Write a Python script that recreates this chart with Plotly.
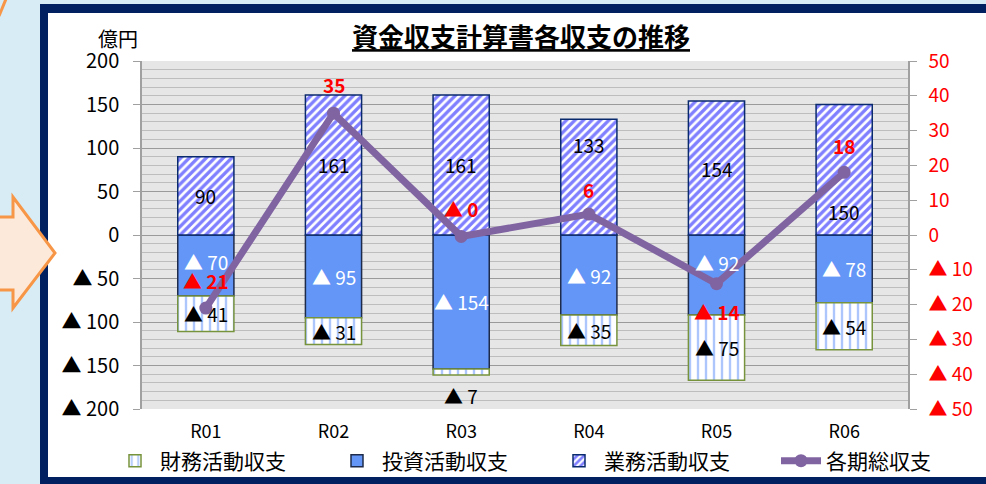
import plotly.graph_objects as go

# ---- data ----
categories = ["R01", "R02", "R03", "R04", "R05", "R06"]
gyomu = [90, 161, 161, 133, 154, 150]        # 業務活動収支
toshi = [-70, -95, -154, -92, -92, -78]      # 投資活動収支
zaimu = [-41, -31, -7, -35, -75, -54]        # 財務活動収支
total = [-21, 35, -0.4, 6, -14, 18]          # 各期総収支

left_ticks = [200, 150, 100, 50, 0, -50, -100, -150, -200]
right_ticks = [50, 40, 30, 20, 10, 0, -10, -20, -30, -40, -50]

# label vertical nudges (pixels)
gyomu_shift = [0, 0, 0, 33, 0, -42]
toshi_shift = [4, 0, 0, 0, 13, 0]
zaimu_shift = [0, 0, -23, 0, 0, 0]
total_shift = [28, 29, 28, 25, -28, 27]


def fmt(v):
    return "▲ %d" % round(abs(v)) if v < 0 else "%d" % round(v)


W, H = 986, 484
ML, MR, MT, MB = 142, 78, 61, 75
PW, PH = W - ML - MR, H - MT - MB


def px(x):
    return (x - ML) / PW


def py(y):
    return (H - MB - y) / PH


FONT = "Noto Sans CJK JP, Noto Sans, sans-serif"

fig = go.Figure()

fig.add_bar(
    x=categories, y=toshi, name="投資活動収支", legendrank=2,
    marker=dict(color="#6396f7", line=dict(color="#1e2b4a", width=1.5)),
    yaxis="y",
)
fig.add_bar(
    x=categories, y=zaimu, name="財務活動収支", legendrank=1,
    marker=dict(color="white", line=dict(color="#77933c", width=1.5),
                pattern=dict(shape="|", fgcolor="#5b8ef7", bgcolor="white",
                             size=8, solidity=0.3)),
    yaxis="y",
)
fig.add_bar(
    x=categories, y=gyomu, name="業務活動収支", legendrank=3,
    marker=dict(color="white", line=dict(color="#0a2a6e", width=1.5),
                pattern=dict(shape="/", fgcolor="#0000ff", bgcolor="white",
                             size=6, solidity=0.55)),
    yaxis="y",
)
fig.add_scatter(
    x=categories, y=total, name="各期総収支", legendrank=4,
    mode="lines+markers",
    line=dict(color="#8064a2", width=7),
    marker=dict(color="#8064a2", size=13, symbol="circle"),
    yaxis="y2",
)

annotations = []
for i, c in enumerate(categories):
    annotations.append(dict(x=c, y=gyomu[i] / 2, xref="x", yref="y", text=fmt(gyomu[i]),
                            showarrow=False, yshift=gyomu_shift[i],
                            font=dict(family=FONT, size=19, color="black")))
    annotations.append(dict(x=c, y=toshi[i] / 2, xref="x", yref="y", text=fmt(toshi[i]),
                            showarrow=False, yshift=toshi_shift[i],
                            font=dict(family=FONT, size=19, color="white")))
    annotations.append(dict(x=c, y=toshi[i] + zaimu[i] / 2, xref="x", yref="y", text=fmt(zaimu[i]),
                            showarrow=False, yshift=zaimu_shift[i],
                            font=dict(family=FONT, size=19, color="black")))
    annotations.append(dict(x=c, y=total[i], xref="x", yref="y2", text="<b>%s</b>" % fmt(total[i]),
                            showarrow=False, yshift=total_shift[i],
                            font=dict(family=FONT, size=19, color="#ff0000")))

annotations.append(dict(x=px(118), y=py(38), xref="paper", yref="paper", text="億円",
                        showarrow=False, xanchor="center", yanchor="middle",
                        font=dict(family=FONT, size=20, color="black")))

shapes = [
    dict(type="rect", xref="paper", yref="paper", x0=px(40), x1=px(995), y0=py(4), y1=py(495),
         fillcolor="#002060", line=dict(width=0), layer="below"),
    dict(type="rect", xref="paper", yref="paper", x0=px(48), x1=px(995), y0=py(13), y1=py(477),
         fillcolor="white", line=dict(width=0), layer="below"),
    dict(type="rect", xref="paper", yref="paper", x0=0, x1=1, y0=0, y1=1,
         fillcolor="#e6e6e6", line=dict(width=0), layer="below"),
    dict(type="path", xref="paper", yref="paper", layer="below",
         path="M %f,%f L %f,%f L %f,%f L %f,%f L %f,%f L %f,%f L %f,%f Z" % (
             px(-5), py(217), px(13), py(217), px(13), py(197), px(55), py(253),
             px(13), py(308), px(13), py(290), px(-5), py(290)),
         fillcolor="#fde9d9", line=dict(color="#f79646", width=3)),
    dict(type="line", xref="paper", yref="paper", x0=px(-1), y0=py(16), x1=px(6), y1=py(-1),
         line=dict(color="#f79646", width=3), layer="below"),
]

fig.update_layout(
    width=W, height=H,
    margin=dict(l=ML, r=MR, t=MT, b=MB, autoexpand=False),
    paper_bgcolor="#d7ecf5",
    plot_bgcolor="rgba(0,0,0,0)",
    font=dict(family=FONT, size=18, color="black"),
    barmode="relative",
    bargap=0.56,
    title=dict(text="<b>資金収支計算書各収支の推移</b>", x=px(521), xref="paper", xanchor="center",
               y=1 - 38 / H, yref="container", yanchor="middle",
               font=dict(family=FONT, size=26, color="black", lineposition="under")),
    xaxis=dict(type="category", showgrid=False, zeroline=False, showline=False, ticks="",
               tickfont=dict(family=FONT, size=18, color="black"), ticklabelstandoff=10),
    yaxis=dict(range=[-200, 200], tickmode="array", tickvals=left_ticks,
               ticktext=[fmt(v) for v in left_ticks],
               tickfont=dict(family=FONT, size=20, color="black"),
               showgrid=True, gridcolor="#9a9a9a", gridwidth=1.3,
               minor=dict(tickmode="linear", tick0=0, dtick=10, showgrid=True,
                          gridcolor="#bdbdbd", gridwidth=1, ticks=""),
               zeroline=False, showline=True, linecolor="#a0a0a0", linewidth=1.5,
               ticks="outside", ticklen=7, tickcolor="#a0a0a0", ticklabelstandoff=10),
    yaxis2=dict(range=[-50, 50], overlaying="y", side="right", tickmode="array",
                tickvals=right_ticks, ticktext=[fmt(v) for v in right_ticks],
                tickfont=dict(family=FONT, size=19, color="#ff0000"),
                showgrid=False, zeroline=False, showline=True, linecolor="#a0a0a0", linewidth=1.5,
                ticks="outside", ticklen=7, tickcolor="#a0a0a0", ticklabelstandoff=8),
    legend=dict(orientation="h", x=px(110), xanchor="left", y=py(461), yanchor="middle",
                font=dict(family=FONT, size=21, color="black"), itemwidth=40,
                entrywidth=167, bgcolor="rgba(0,0,0,0)", traceorder="normal"),
    showlegend=True,
    annotations=annotations,
    shapes=shapes,
)

fig.write_html("out.html", config={"displayModeBar": False},
               post_script="document.body.style.margin='0';document.body.style.overflow='hidden';")
